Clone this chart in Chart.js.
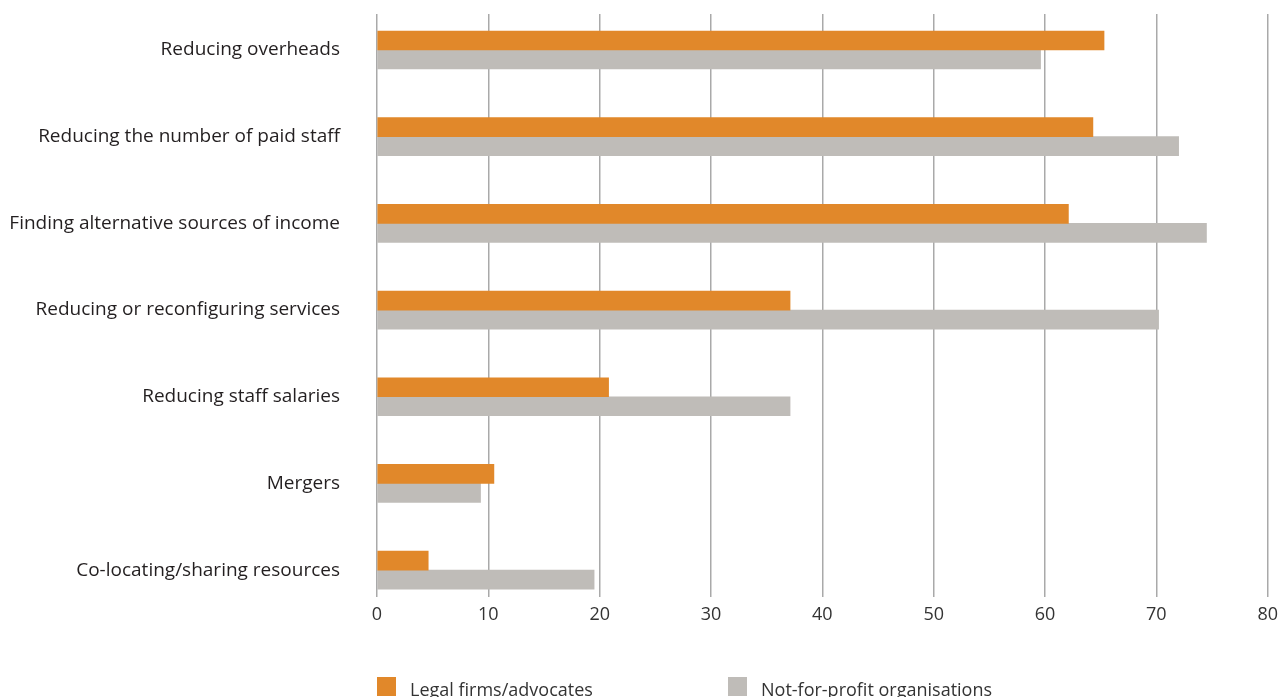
<!DOCTYPE html>
<html>
<head>
<meta charset="utf-8">
<script src="https://cdn.jsdelivr.net/npm/chart.js@4"></script>
<style>
  html, body { margin: 0; padding: 0; background: #fff; }
  #wrap { position: relative; width: 1285px; height: 697px; overflow: hidden; }
  #legend { position: absolute; left: 377px; top: 677px; font-family: "Open Sans", sans-serif; font-size: 18px; color: #333; }
  #legend span.item { position: absolute; white-space: nowrap; top: 0; }
  #legend i { display: inline-block; width: 19px; height: 19px; vertical-align: top; margin-right: 14px; }
</style>
</head>
<body>
<div id="wrap">
  <canvas id="chart" width="1285" height="697"></canvas>
  <div id="legend"></div>
</div>
<script>
const categories = [
  'Reducing overheads',
  'Reducing the number of paid staff',
  'Finding alternative sources of income',
  'Reducing or reconfiguring services',
  'Reducing staff salaries',
  'Mergers',
  'Co-locating/sharing resources'
];
const legalFirms = [65.3, 64.3, 62.1, 37.1, 20.8, 10.5, 4.6];
const notForProfit = [59.6, 72.0, 74.5, 70.2, 37.1, 9.3, 19.5];
const seriesNames = ['Legal firms/advocates', 'Not-for-profit organisations'];
const seriesColors = ['#e1882a', '#bfbcb8'];
const xTicks = [0, 10, 20, 30, 40, 50, 60, 70, 80];

function toPoints(values) {
  return values.map(function (v, i) { return { x: v, y: i }; });
}

new Chart(document.getElementById('chart').getContext('2d'), {
  type: 'bar',
  data: {
    datasets: [{
      label: seriesNames[0],
      data: toPoints(legalFirms),
      backgroundColor: seriesColors[0],
      barThickness: 19
    }, {
      label: seriesNames[1],
      data: toPoints(notForProfit),
      backgroundColor: seriesColors[1],
      barThickness: 19
    }]
  },
  options: {
    indexAxis: 'y',
    responsive: false,
    animation: false,
    layout: { padding: { top: 14, left: 8, right: 16, bottom: 0 } },
    plugins: { legend: { display: false }, tooltip: { enabled: false } },
    scales: {
      x: {
        type: 'linear',
        min: 0,
        max: 80,
        afterBuildTicks: function (s) { s.ticks = xTicks.map(function (v) { return { value: v }; }); },
        afterFit: function (s) { s.height = 100; },
        border: { display: false },
        grid: { color: '#a9a9a9', lineWidth: 1.5, drawTicks: false },
        ticks: {
          padding: 7,
          color: '#333',
          font: { family: 'Open Sans', size: 18 }
        }
      },
      y: {
        type: 'linear',
        offset: false,
        reverse: true,
        min: -0.415,
        max: 6.31,
        afterBuildTicks: function (s) { s.ticks = categories.map(function (c, i) { return { value: i }; }); },
        afterFit: function (s) { s.width = 369; s.paddingTop = 0; s.paddingBottom = 0; },
        border: { display: false },
        grid: { display: false, drawTicks: false, offset: false },
        ticks: {
          padding: 37,
          color: '#231f20',
          font: { family: 'Open Sans', size: 19 },
          callback: function (v) { return categories[v]; }
        }
      }
    }
  }
});

const legend = document.getElementById('legend');
const legendOffsets = [0, 351];
seriesNames.forEach(function (name, i) {
  const item = document.createElement('span');
  item.className = 'item';
  item.style.left = legendOffsets[i] + 'px';
  item.innerHTML = '<i style="background:' + seriesColors[i] + '"></i>' + name;
  legend.appendChild(item);
});
</script>
</body>
</html>
